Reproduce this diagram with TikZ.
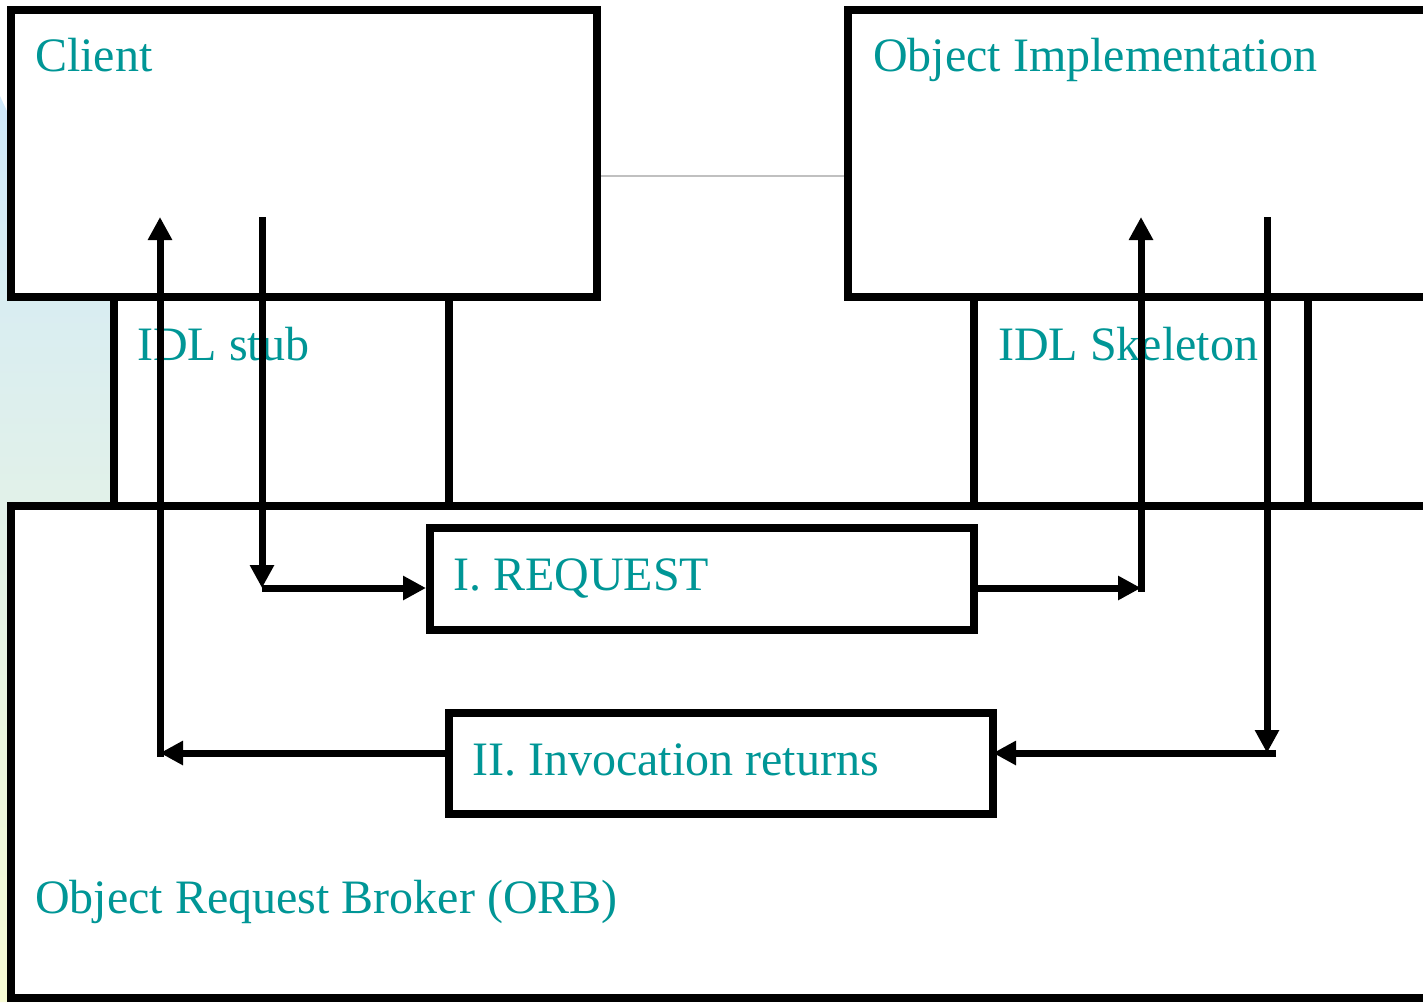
\documentclass[tikz,border=0pt]{standalone}
\usepackage{fontspec}
\setmainfont{Liberation Serif}
\usetikzlibrary{arrows.meta,calc}

\definecolor{labelteal}{RGB}{0,150,150}
\definecolor{bgtop}{RGB}{208,233,250}
\definecolor{bgmid}{RGB}{221,240,238}
\definecolor{bgbot}{RGB}{247,251,212}
\definecolor{linkgray}{RGB}{192,192,192}

\tikzset{
  block/.style={draw=black, fill=white, line width=8pt, rectangle, inner sep=0pt},
  caption/.style={anchor=base west, inner sep=0pt, text=labelteal,
    font=\fontsize{48}{58}\selectfont},
  flow/.style={line width=7pt, -{Triangle[length=23pt,width=23pt]}},
  plain/.style={line width=7pt},
}

\begin{document}
\begin{tikzpicture}[x=1pt,y=-1pt]
  \useasboundingbox (0,0) rectangle (1423,1002);
  \clip (0,0) rectangle (1423,1002);

  % decorative shaded strip along the left edge
  \shade[top color=bgtop, middle color=bgmid, bottom color=bgbot]
    (0,96) -- (12,122) -- (130,122) -- (130,1002) -- (0,1002) -- cycle;

  % interface layers (drawn first so the larger boxes overlap their edges)
  \node[block, minimum width=335pt, minimum height=209pt] (stub) at (281.5,401.5) {};
  \node[block, minimum width=334pt, minimum height=209pt] (skel) at (1141,401.5) {};

  % client, object implementation and the ORB
  \node[block, minimum width=586pt, minimum height=287pt] (client) at (304,153.5) {};
  \node[block, minimum width=700pt, minimum height=287pt] (objimpl) at (1198,153.5) {};
  \node[block, minimum width=1500pt, minimum height=492pt] (orb) at (761,752) {};

  % messages inside the ORB
  \node[block, minimum width=544pt, minimum height=102pt] (request) at (702,579) {};
  \node[block, minimum width=544pt, minimum height=101pt] (invoc) at (721,763.5) {};

  % thin link between the two upper boxes
  \coordinate (g) at (0,176);
  \draw[linkgray, line width=2.5pt] (client.east |- g) -- (objimpl.west |- g);

  % captions
  \node[caption] (tclient) at (35,71) {Client};
  \node[caption] (tobj) at (873,71) {Object Implementation};
  \node[caption] (tstub) at (137,360) {IDL stub};
  \node[caption] (tskel) at (998,360) {IDL Skeleton};
  \node[caption] (treq) at (453,590) {I. REQUEST};
  \node[caption] (tinv) at (472,775) {II. Invocation returns};
  \node[caption] (torb) at (35,913) {Object Request Broker (ORB)};

  % turning points of the call paths
  \coordinate (cstart) at (262,217);
  \coordinate (cturn) at (262,588);
  \coordinate (sturn) at (1141,588);
  \coordinate (send) at (1141,217);
  \coordinate (kstart) at (1267,217);
  \coordinate (kturn) at (1267,753);
  \coordinate (kright) at (1276,753);
  \coordinate (rturn) at (160,753);
  \coordinate (rend) at (160,217);

  % request: client -> stub -> ORB -> skeleton -> object implementation
  \draw[flow] (cstart) -- (cturn);
  \draw[flow] (cturn) -- (request.west |- cturn);
  \draw[flow] (request.east |- sturn) -- (sturn);
  \draw[flow] ($(sturn)+(0,3.5)$) -- (send);

  % reply: object implementation -> skeleton -> ORB -> stub -> client
  \draw[flow] (kstart) -- (kturn);
  \draw[flow] (kright) -- ($(invoc.east |- kturn)+(-4,0)$);
  \draw[flow] (invoc.west |- rturn) -- (rturn);
  \draw[flow] ($(rturn)+(0,3.5)$) -- (rend);
\end{tikzpicture}
\end{document}
